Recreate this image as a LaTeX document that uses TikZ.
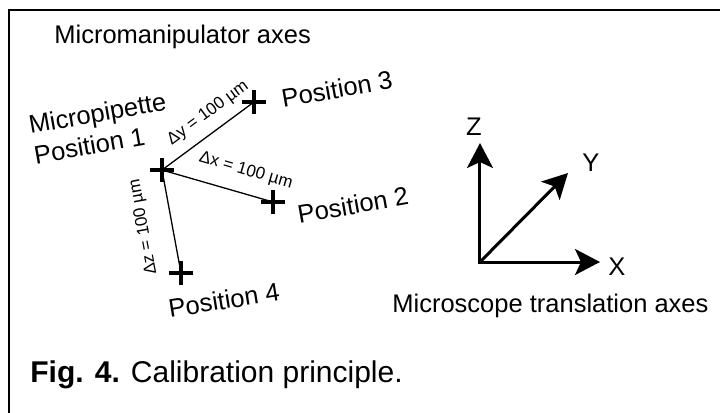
\documentclass[tikz,border=0pt]{standalone}
\usepackage{fontspec}
\setmainfont{Liberation Sans}
\usetikzlibrary{arrows.meta,positioning}

\begin{document}
\begin{tikzpicture}[
  x=0.5pt, y=-0.5pt,
  >={Stealth[length=12.5pt, width=13pt, inset=3pt]},
  crossmark/.style={line width=1.6pt},
  lbl/.style={font=\fontsize{12.75}{15.3}\selectfont, inner sep=0pt},
  caplbl/.style={font=\fontsize{15}{18}\selectfont, inner sep=0pt},
  dimlbl/.style={font=\fontsize{8.5}{10}\selectfont, sloped, inner sep=1pt},
  leg/.style={line width=0.65pt},
  axis/.style={line width=1.5pt}
]
  \useasboundingbox (0,0) rectangle (720,413);
  \draw[line width=1pt] (730,10) -- (9,10) -- (9,423);

  \node[lbl, anchor=base west] (mtitle) at (54,43) {Micromanipulator axes};

  \coordinate (p1) at (162,170);
  \coordinate (p2) at (273,202);
  \coordinate (p3) at (254,102);
  \coordinate (p4) at (181,273);

  \draw[leg] (p1) -- node[dimlbl, above=4pt, pos=0.62] {Δy = 100 µm} (p3);
  \draw[leg] (p1) -- node[dimlbl, above=6pt, pos=0.7] {Δx = 100 µm} (p2);
  \draw[leg] (p4) -- node[dimlbl, allow upside down, above=9pt, pos=0.5] {Δz = 100 µm} (p1);
  \foreach \p in {p1,p2,p3,p4}
    \draw[crossmark] ([xshift=-6pt]\p) -- ([xshift=6pt]\p)
                     ([yshift=-6pt]\p) -- ([yshift=6pt]\p);

  \node[lbl, align=left, rotate=10] (pip) at (100,128) {Micropipette\\Position 1};
  \node[lbl, rotate=10] (pos3) at (337,89) {Position 3};
  \node[lbl, rotate=10] (pos2) at (353,205) {Position 2};
  \node[lbl, rotate=9] (pos4) at (224,300) {Position 4};

  \coordinate (o) at (480,262);
  \coordinate (xt) at (600,262);
  \coordinate (yt) at (568,173);
  \coordinate (zt) at (480,143);
  \draw[axis, <->] (zt) -- (o) -- (xt);
  \draw[axis, ->] (o) -- (yt);
  \node[lbl, above=3.5pt of zt, xshift=-3pt] (zlbl) {Z};
  \node[lbl, above right=0.5pt and 7pt of yt] (ylbl) {Y};
  \node[lbl, right=4pt of xt, yshift=-2.5pt] (xlbl) {X};

  \node[lbl, anchor=base west] (stitle) at (392,312) {Microscope translation axes};

  \node[caplbl, anchor=base west] (cap) at (30,382) {\textbf{Fig. 4.} Calibration principle.};
\end{tikzpicture}
\end{document}
